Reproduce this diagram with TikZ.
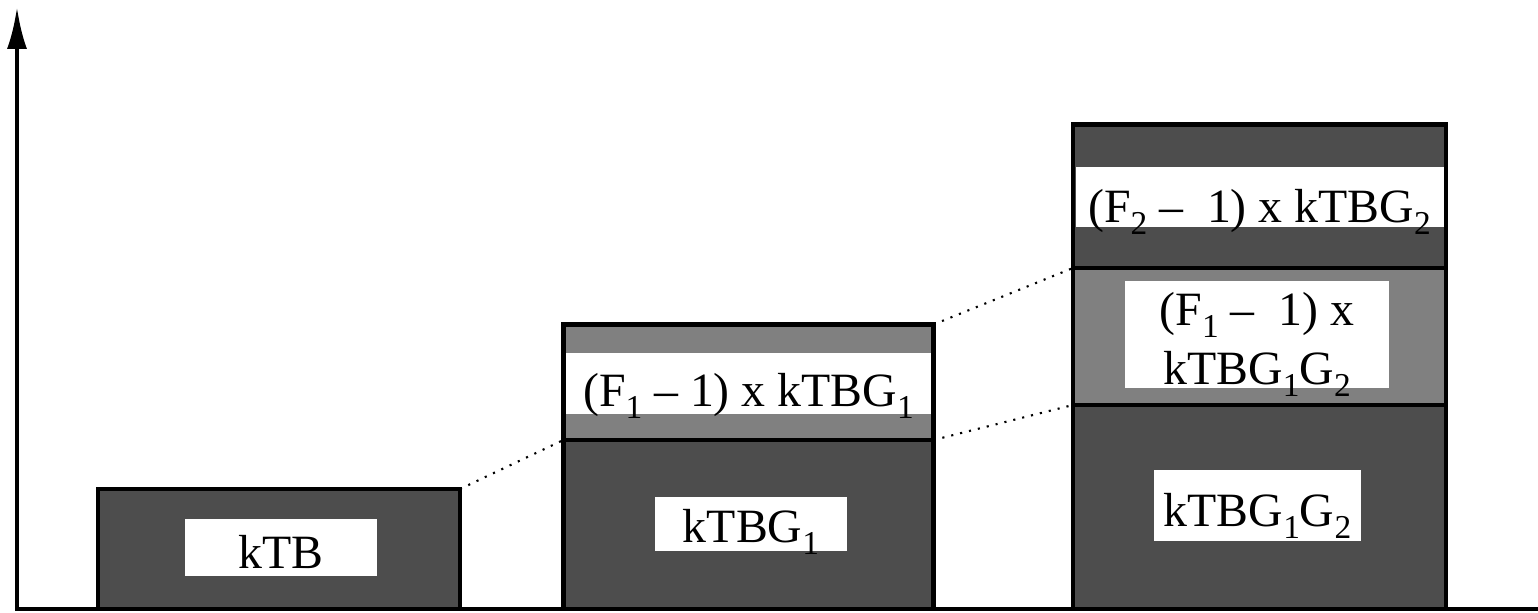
\documentclass[tikz,border=0pt]{standalone}
\usepackage{tikz}
\usepackage{xcolor}
\usepackage{fontspec}
\setmainfont{Liberation Serif}
\usetikzlibrary{positioning, arrows.meta}
\definecolor{barDark}{HTML}{4D4D4D}
\definecolor{barMid} {HTML}{808080}
\newcommand{\sub}[1]{\raisebox{-0.25em}{\fontsize{9.5}{9.5}\selectfont #1}}
\tikzset{
  layer/.style={draw=black, line width=1.2pt, inner sep=0pt, outer sep=0pt, anchor=south west},
  tag/.style={fill=white, inner sep=0pt, outer sep=0pt, anchor=base, font=\fontsize{13.6}{16.8}\selectfont},
  link/.style={dotted, line width=0.6pt},
  axisline/.style={line width=1.2pt},
}

\begin{document}
\begin{tikzpicture}
        \useasboundingbox (0,0) rectangle (15.38,6.13);
        % axes
        \coordinate (o) at (0.17,0.04);
        \coordinate (ytip) at (0.17,6.06);
        \coordinate (xend) at (15.40,0.04);
        \draw[axisline, -{Latex[length=4.2mm,width=2mm]}] (o) -- (ytip);
        \draw[axisline, line cap=rect] (o) -- (xend);
        % bar 1
        \node[layer, fill=barDark, minimum width=3.62cm, minimum height=1.20cm] (b1) at (0.98,0.04) {};
        \node[tag, minimum width=1.92cm, text height=0.50cm, text depth=0.07cm] (t1) at (2.81,0.44) {kTB};
        % bar 2
        \node[layer, fill=barDark, minimum width=3.70cm, minimum height=1.69cm] (b2lo) at (5.635,0.04) {};
        \node[layer, fill=barMid, minimum width=3.70cm, minimum height=1.155cm] (b2hi) at (b2lo.north west) {};
        \node[tag, minimum width=3.65cm, text height=0.54cm, text depth=0.07cm] (t2hi) at (7.485,2.06) {(F\sub{1} -- 1) x kTBG\sub{1}};
        \node[tag, minimum width=1.92cm, text height=0.46cm, text depth=0.08cm] (t2lo) at (7.51,0.70) {kTBG\sub{1}};
        % bar 3
        \node[layer, fill=barDark, minimum width=3.73cm, minimum height=2.04cm] (b3lo) at (10.73,0.04) {};
        \node[layer, fill=barMid, minimum width=3.73cm, minimum height=1.37cm] (b3mid) at (b3lo.north west) {};
        \node[layer, fill=barDark, minimum width=3.73cm, minimum height=1.435cm] (b3hi) at (b3mid.north west) {};
        \node[tag, minimum width=3.68cm, text height=0.56cm, text depth=0.04cm] (t3hi) at (12.595,3.90) {(F\sub{2} -- \ 1) x kTBG\sub{2}};
        \node[tag, anchor=center, minimum width=2.64cm, minimum height=1.07cm] (t3mid) at (12.57,2.785) {};
        \node[font=\fontsize{13.6}{16.8}\selectfont, align=center, inner sep=0pt] (t3midtext)
              at ([yshift=-0.10cm]t3mid.center) {(F\sub{1} -- \ 1) x\\kTBG\sub{1}G\sub{2}};
        \node[tag, minimum width=2.07cm, text height=0.57cm, text depth=0.14cm] (t3lo) at (12.575,0.86) {kTBG\sub{1}G\sub{2}};
        % dotted links
        \draw[link] (b1.north east) -- (b2lo.north west);
        \draw[link] (b2hi.north east) -- (b3mid.north west);
        \draw[link] (b2lo.north east) -- (b3lo.north west);
\end{tikzpicture}
\end{document}
